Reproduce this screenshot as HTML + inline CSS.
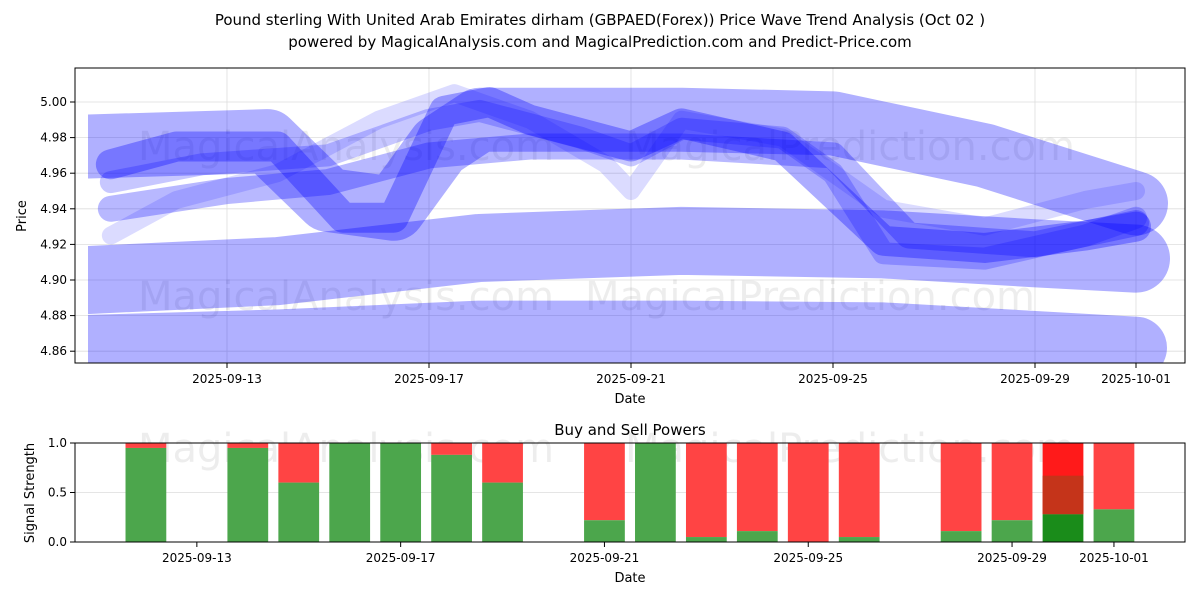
<!DOCTYPE html>
<html><head><meta charset="utf-8"><style>
body{margin:0;background:#fff;font-family:"Liberation Sans","DejaVu Sans",sans-serif}
svg text{font-family:"DejaVu Sans","Liberation Sans",sans-serif}
</style></head><body>
<svg id="chart" width="1200" height="600" xmlns="http://www.w3.org/2000/svg">
<text x="600" y="25" text-anchor="middle" font-size="15">Pound sterling With United Arab Emirates dirham (GBPAED(Forex)) Price Wave Trend Analysis (Oct 02 )</text>
<text x="600" y="47" text-anchor="middle" font-size="15">powered by MagicalAnalysis.com and MagicalPrediction.com and Predict-Price.com</text>
<g id="topPanel"></g>
<g id="botPanel"></g>
</svg>
<script>
const dateLabels=["2025-09-13","2025-09-17","2025-09-21","2025-09-25","2025-09-29","2025-10-01"];
const dateTickDays=[3,7,11,15,19,21];
const priceTicks=[4.86,4.88,4.90,4.92,4.94,4.96,4.98,5.00];
const bandA=[[0.25,4.863],[4,4.866],[8,4.871],[12,4.871],[16,4.870],[21,4.862]];
const bandB=[[0.25,4.900],[4,4.905],[8,4.918],[12,4.922],[16,4.920],[19,4.915],[21,4.912]];
const bandC=[[0.25,4.975],[3.8,4.978],[5,4.945],[6.3,4.940],[7.2,4.975],[8,4.990],[12,4.990],[15,4.988],[18,4.970],[21,4.943]];
const bandD=[[0.7,4.965],[2,4.975],[4,4.975],[5.3,4.935],[6.3,4.935],[7.3,4.995],[8.2,5.0],[9,4.99],[11,4.975],[12,4.988],[14,4.975],[16,4.922],[18,4.918],[20,4.925],[21,4.93]];
const bandE=[[0.7,4.94],[3,4.95],[5,4.955],[7,4.97],[9,4.975],[12,4.975],[15,4.97],[16.5,4.925],[19,4.92],[21,4.932]];
const bandF=[[0.7,4.955],[2.5,4.965],[5,4.97],[7,4.99],[8,4.995],[10,4.98],[11,4.97],[12,4.985],[14,4.98],[15,4.96],[16,4.915],[18,4.912],[20,4.925],[21,4.935]];
const bandG=[[0.7,4.925],[2,4.945],[4,4.96],[6,4.99],[7.5,5.005],[9,4.99],[10.5,4.965],[11,4.95],[12,4.99],[14,4.98],[16,4.94],[18,4.93],[20,4.945],[21,4.95]];
const barDays=[2,4,5,6,7,8,9,11,12,13,14,15,16,18,19,20,21];
const buyPower=[0.95,0.95,0.6,1.0,1.0,0.88,0.6,0.22,1.0,0.05,0.11,0.0,0.05,0.11,0.22,0.28,0.33];
const buyPower2=[null,null,null,null,null,null,null,null,null,null,null,null,null,null,null,0.67,null];
const signalTicks=[0.0,0.5,1.0];

const NS="http://www.w3.org/2000/svg";
const X=d=>75.5+d*50.5;
const XB=d=>44+d*50.95;
const Y=p=>102+(5.00-p)/0.02*35.6;
const YB=v=>542-v*99;
function mk(tag,at,parent){const e=document.createElementNS(NS,tag);for(const k in at)e.setAttribute(k,at[k]);parent.appendChild(e);return e;}
const topG=document.getElementById('topPanel'),botG=document.getElementById('botPanel');

const defs=mk('defs',{},topG);
const cp=mk('clipPath',{id:'c1'},defs);mk('rect',{x:75,y:68,width:1110,height:295},cp);
const cp2=mk('clipPath',{id:'c2'},defs);mk('rect',{x:88,y:68,width:1097,height:295},cp2);
dateTickDays.forEach((d,i)=>{
 const g=mk('line',{x1:X(d),x2:X(d),y1:68,y2:363,stroke:'#ddd','stroke-width':0.8},topG);
 
 
 mk('line',{x1:X(d),x2:X(d),y1:363,y2:368,stroke:'#000'},topG);
 const tx=mk('text',{x:X(d),y:383,'text-anchor':'middle','font-size':12},topG);tx.textContent=dateLabels[i];
 
 
});
priceTicks.forEach(p=>{
 mk('line',{x1:75,x2:1185,y1:Y(p),y2:Y(p),stroke:'#ddd','stroke-width':0.8},topG);
 mk('line',{x1:70,x2:75,y1:Y(p),y2:Y(p),stroke:'#000'},topG);
 const tx=mk('text',{x:67,y:Y(p)+4,'text-anchor':'end','font-size':12},topG);tx.textContent=p.toFixed(2);
 
 
});
[[346,160,'MagicalAnalysis.com'],[850,160,'MagicalPrediction.com'],[346,310,'MagicalAnalysis.com'],[810,310,'MagicalPrediction.com']].forEach(w=>{
 const t=mk('text',{x:w[0],y:w[1],'text-anchor':'middle','font-size':40,fill:'#000','fill-opacity':0.07},topG);t.textContent=w[2];
 
 
});
const cg=mk('g',{'clip-path':'url(#c1)'},topG);
const cgw=mk('g',{'clip-path':'url(#c2)'},cg);
[[bandA,62,0.31,cgw],[bandB,68,0.31,cgw],[bandC,64,0.31,cgw],[bandE,26,0.28,cg],[bandD,30,0.32,cg],[bandF,22,0.22,cg],[bandG,18,0.14,cg]].forEach(b=>{
 const pts=b[0].map(q=>X(q[0])+','+Y(q[1])).join(' ');
 const pl=mk('polyline',{points:pts,fill:'none',stroke:'#0000ff','stroke-opacity':b[2],'stroke-width':b[1],'stroke-linejoin':'round','stroke-linecap':'round'},b[3]);
 
 
});
mk('rect',{x:75,y:68,width:1110,height:295,fill:'none',stroke:'#000','stroke-width':1},topG);
let t=mk('text',{x:630,y:403,'text-anchor':'middle','font-size':13},topG);t.textContent='Date';


t=mk('text',{x:26,y:216,'text-anchor':'middle','font-size':13,transform:'rotate(-90 26 216)'},topG);t.textContent='Price';



t=mk('text',{x:630,y:435,'text-anchor':'middle','font-size':15},botG);t.textContent='Buy and Sell Powers';


mk('line',{x1:75,x2:1185,y1:YB(0.5),y2:YB(0.5),stroke:'#ddd','stroke-width':0.8},botG);
[[346,462,'MagicalAnalysis.com'],[850,462,'MagicalPrediction.com']].forEach(w=>{
 const tt=mk('text',{x:w[0],y:w[1],'text-anchor':'middle','font-size':40,fill:'#000','fill-opacity':0.07},botG);tt.textContent=w[2];
 
 
});
barDays.forEach((d,i)=>{
 const w=50.95*0.8,x=XB(d)-w/2,v=buyPower[i],v2=buyPower2[i];
 const dark=v2!==null;
 const r=mk('rect',{x:x,y:YB(1),width:w,height:YB(v)-YB(1),fill:dark?'#ff1a1a':'#ff4444'},botG);
 
 
 if(dark){const m=mk('rect',{x:x,y:YB(v2),width:w,height:YB(v)-YB(v2),fill:'#c5341a'},botG);
  
  }
 const g=mk('rect',{x:x,y:YB(v),width:w,height:YB(0)-YB(v),fill:dark?'#1a8c1a':'#4ca64c'},botG);
 
 
});
dateTickDays.forEach((d,i)=>{
 mk('line',{x1:XB(d),x2:XB(d),y1:542,y2:547,stroke:'#000'},botG);
 const tx=mk('text',{x:XB(d),y:562,'text-anchor':'middle','font-size':12},botG);tx.textContent=dateLabels[i];
 
 
});
signalTicks.forEach(v=>{
 mk('line',{x1:70,x2:75,y1:YB(v),y2:YB(v),stroke:'#000'},botG);
 const tx=mk('text',{x:67,y:YB(v)+4,'text-anchor':'end','font-size':12},botG);tx.textContent=v.toFixed(1);
 
 
});
mk('rect',{x:75,y:443,width:1110,height:99,fill:'none',stroke:'#000','stroke-width':1},botG);
t=mk('text',{x:630,y:582,'text-anchor':'middle','font-size':13},botG);t.textContent='Date';


t=mk('text',{x:34,y:493,'text-anchor':'middle','font-size':13,transform:'rotate(-90 34 493)'},botG);t.textContent='Signal Strength';


</script>
</body></html>
